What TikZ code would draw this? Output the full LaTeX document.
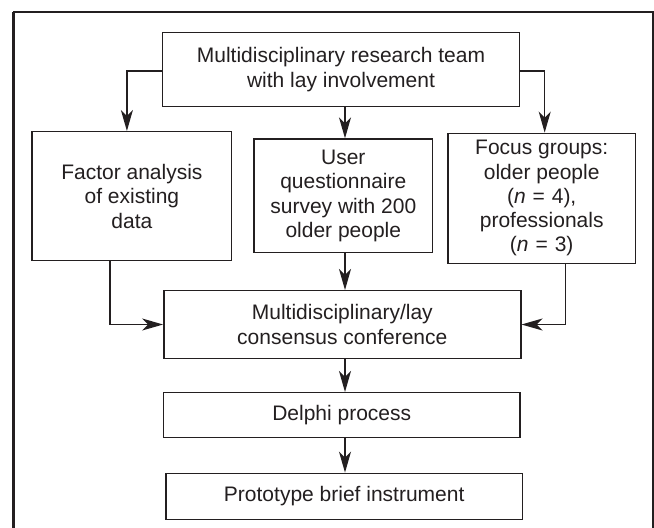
\documentclass[tikz,border=0pt]{standalone}
\usepackage{fontspec}
\setmainfont{Liberation Sans}
\usetikzlibrary{arrows.meta,calc}
\definecolor{ink}{HTML}{231F20}
\newcommand{\eqsp}{\hspace{0.33em}=\hspace{0.33em}}
\begin{document}
\begin{tikzpicture}[x=1pt,y=-1pt,
  box/.style={draw=ink,line width=1.4pt,inner sep=0pt,align=center,text=ink,
    font=\fontsize{21}{24.3}\selectfont},
  conn/.style={draw=ink,line width=1.5pt,-{Stealth[length=21pt,width=12pt,inset=6pt]}}]
\useasboundingbox (0,0) rectangle (654,528);
\fill[white] (0,0) rectangle (654,528);
% outer frame (open at the bottom)
\draw[ink,line width=2pt] (13.5,528) -- (13.5,12) -- (652.5,12) -- (652.5,528);
\draw[ink,line width=3pt] (13.5,528) -- (13.5,12);

\node[box,minimum width=357pt,minimum height=74.5pt] (top) at (341,69.5)
  {Multidisciplinary research team\\with lay involvement};
\node[box,minimum width=199.7pt,minimum height=129pt] (fa) at (131.9,196.2)
  {Factor analysis\\of existing\\data};
\node[box,minimum width=178.5pt,minimum height=113.7pt] (uq) at (343.3,195.9)
  {User\\questionnaire\\survey with 200\\older people};
\node[box,minimum width=187.4pt,minimum height=130pt] (fg) at (541.7,198.3)
  {Focus groups:\\older people\\(\textit{n}\eqsp4),\\professionals\\(\textit{n}\eqsp3)};
\node[box,minimum width=357pt,minimum height=67.6pt] (cc) at (342.3,324.5)
  {Multidisciplinary/lay\\consensus conference};
\node[box,minimum width=356.7pt,minimum height=44.6pt] (dp) at (341.7,415)
  {Delphi process};
\node[box,minimum width=356.7pt,minimum height=46pt] (pb) at (344.2,496.3)
  {Prototype brief instrument};

\coordinate (tl) at ($(top.west)+(0,1.5)$);
\coordinate (tr) at ($(top.east)+(0,1.5)$);
\coordinate (fal) at ($(fa.south west)!0.39!(fa.south east)$);
\coordinate (fgr) at ($(fg.south west)!0.627!(fg.south east)$);

\draw[conn] (tl) -| ($(fa.north)+(-5,0)$);
\draw[conn] (tr) -| ($(fg.north)+(3,0)$);
\draw[conn] ($(top.south)+(4,0)$) -- ($(uq.north)+(1.7,0)$);
\draw[conn] (fal) |- (cc.west);
\draw[conn] (fgr) |- (cc.east);
\draw[conn] ($(uq.south)+(1.7,0)$) -- ($(cc.north)+(2.7,0)$);
\draw[conn] ($(cc.south)+(2.7,0)$) -- ($(dp.north)+(3.3,0)$);
\draw[conn] ($(dp.south)+(3.3,0)$) -- ($(pb.north)+(0.8,0)$);
\end{tikzpicture}
\end{document}
